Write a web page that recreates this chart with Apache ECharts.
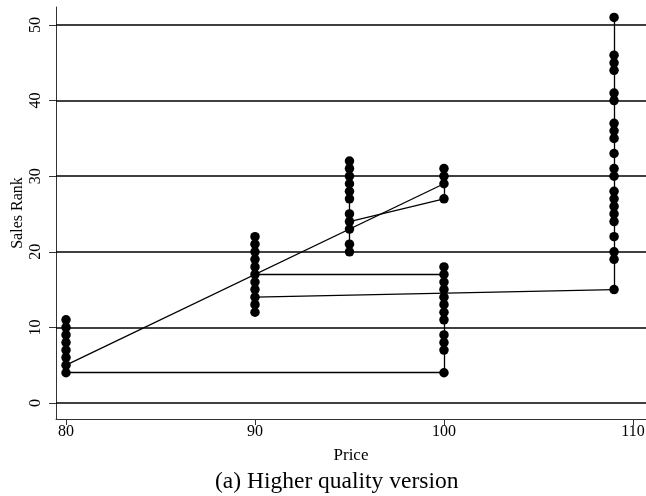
<!DOCTYPE html>
<html>
<head>
<meta charset="utf-8">
<script src="https://cdn.jsdelivr.net/npm/echarts@6/dist/echarts.min.js"></script>
<style>
html,body{margin:0;padding:0;background:#fff;}
#c{width:646px;height:496px;}
</style>
</head>
<body>
<div id="c"></div>
<script>
// ---- data ----
const xTicks = [80, 90, 100, 110];
const yTicks = [0, 10, 20, 30, 40, 50];
const ranks80  = [4, 5, 6, 7, 8, 9, 10, 11];
const ranks90  = [12, 13, 14, 15, 16, 17, 18, 19, 20, 21, 22];
const ranks95  = [20, 21, 23, 24, 25, 27, 28, 29, 30, 31, 32];
const ranks100 = [4, 7, 8, 9, 11, 12, 13, 14, 15, 16, 17, 18, 27, 29, 30, 31];
const ranks109 = [15, 19, 20, 22, 24, 25, 26, 27, 28, 30, 31, 33, 35, 36, 37, 40, 41, 44, 45, 46, 51];
// connecting segments: [fromPrice, fromRank, toPrice, toRank]
const links = [
  [80, 4, 80, 11],
  [80, 4, 100, 4],
  [80, 5, 100, 29],
  [90, 12, 90, 22],
  [90, 17, 100, 17],
  [90, 14, 109, 15],
  [95, 20, 95, 32],
  [95, 24, 100, 27],
  [100, 4, 100, 18],
  [100, 27, 100, 31],
  [109, 15, 109, 51]
];
const groups = [[80, ranks80], [90, ranks90], [95, ranks95], [100, ranks100], [109, ranks109]];

const points = [];
groups.forEach(([p, rs]) => rs.forEach(r => points.push([p, r])));

const serif = '"Liberation Serif", "DejaVu Serif", serif';
const chart = echarts.init(document.getElementById('c'), null, {renderer: 'canvas'});
chart.setOption({
  animation: false,
  backgroundColor: '#fff',
  title: {
    text: '(a) Higher quality version',
    left: 210, top: 465,
    textStyle: {fontFamily: serif, fontSize: 23.5, fontWeight: 'normal', color: '#000'}
  },
  grid: {left: 56, right: 0, top: 7, bottom: 77, containLabel: false, outerBoundsMode: 'none'},
  xAxis: {
    type: 'value', min: 79.47, max: 110.69,
    name: 'Price', nameLocation: 'middle', nameGap: 28,
    nameTextStyle: {fontFamily: serif, fontSize: 17, color: '#000'},
    axisLine: {show: true, onZero: false, lineStyle: {color: '#333', width: 1}},
    axisTick: {show: true, length: 6, customValues: xTicks, lineStyle: {color: '#333'}},
    axisLabel: {customValues: xTicks, fontFamily: serif, fontSize: 16, color: '#000', margin: 5},
    splitLine: {show: false}
  },
  yAxis: {
    type: 'value', min: -2.12, max: 52.38,
    name: 'Sales Rank', nameLocation: 'middle', nameGap: 30, nameRotate: 90,
    nameMoveOverlap: false,
    nameTextStyle: {fontFamily: serif, fontSize: 16, color: '#000'},
    axisLine: {show: true, onZero: false, lineStyle: {color: '#333', width: 1}},
    axisTick: {show: true, length: 7, customValues: yTicks, lineStyle: {color: '#333'}},
    axisLabel: {customValues: yTicks, rotate: 90, fontFamily: serif, fontSize: 16, color: '#000', margin: 12},
    splitLine: {show: false}
  },
  series: [
    {
      type: 'lines',
      coordinateSystem: 'cartesian2d',
      polyline: false,
      silent: true,
      lineStyle: {color: '#000', width: 1.3, opacity: 1},
      data: links.map(l => ({coords: [[l[0], l[1]], [l[2], l[3]]]})),
      z: 3
    },
    {
      type: 'scatter',
      symbol: 'circle',
      symbolSize: 9.5,
      itemStyle: {color: '#000', opacity: 1, borderWidth: 0},
      data: points,
      z: 4,
      markLine: {
        silent: true,
        symbol: ['none', 'none'],
        label: {show: false},
        lineStyle: {color: '#000', width: 1.6, type: 'solid', opacity: 1},
        emphasis: {disabled: true},
        data: yTicks.map(v => ({yAxis: v}))
      }
    }
  ]
});
</script>
</body>
</html>
